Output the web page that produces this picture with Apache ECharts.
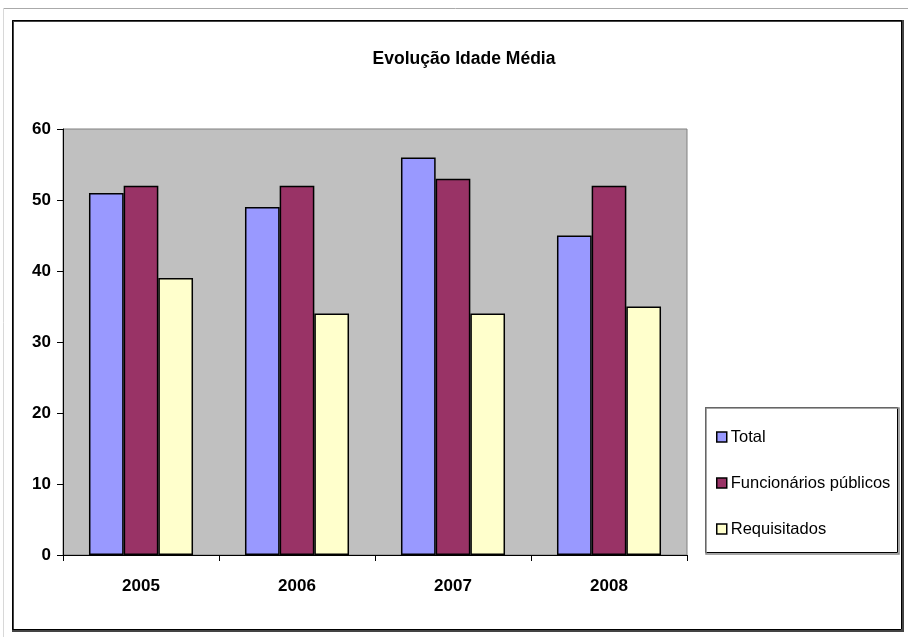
<!DOCTYPE html>
<html>
<head>
<meta charset="utf-8">
<script src="https://cdn.jsdelivr.net/npm/echarts@6/dist/echarts.min.js"></script>
<style>
html,body{margin:0;padding:0;background:#fff;}
#main{width:908px;height:637px;}
</style>
</head>
<body>
<div id="main"></div>
<script>
var titleText = 'Evolução Idade Média';
var categories = ['2005', '2006', '2007', '2008'];
var seriesNames = ['Total', 'Funcionários públicos', 'Requisitados'];
var totalValues = [51, 49, 56, 45];
var funcionariosValues = [52, 52, 53, 52];
var requisitadosValues = [39, 34, 34, 35];
var seriesColors = ['#9999FF', '#993366', '#FFFFCC'];
var yMin = 0, yMax = 60, yInterval = 10;

var chart = echarts.init(document.getElementById('main'), null, {renderer: 'canvas'});
var font = '"Liberation Sans", Arial, sans-serif';
var valueSets = [totalValues, funcionariosValues, requisitadosValues];

var option = {
  animation: false,
  backgroundColor: '#fff',
  title: {
    text: titleText,
    left: 459, top: 45, textAlign: 'center',
    textStyle: {fontFamily: font, fontSize: 17.5, fontWeight: 'bold', color: '#000'}
  },
  grid: {
    left: 63, top: 129, width: 624, height: 426,
    show: true, backgroundColor: '#C0C0C0', borderColor: '#808080', borderWidth: 1
  },
  legend: {
    orient: 'vertical',
    left: 711, top: 422,
    itemWidth: 10, itemHeight: 10, itemGap: 26,
    icon: 'rect',
    itemStyle: {borderColor: '#000', borderWidth: 1.5},
    textStyle: {fontFamily: font, fontSize: 16.5, color: '#000', lineHeight: 20, padding: [0,0,0,-1]},
    data: seriesNames
  },
  xAxis: {
    type: 'category',
    data: categories,
    axisLine: {lineStyle: {color: '#000', width: 1}},
    axisTick: {show: true, length: 6, lineStyle: {color: '#000'}},
    axisLabel: {fontFamily: font, fontSize: 17, fontWeight: 'bold', color: '#000', margin: 23},
    splitLine: {show: false}
  },
  yAxis: {
    type: 'value',
    min: yMin, max: yMax, interval: yInterval,
    axisLine: {show: true, lineStyle: {color: '#000', width: 1}},
    axisTick: {show: true, length: 6, lineStyle: {color: '#000'}},
    axisLabel: {fontFamily: font, fontSize: 17, fontWeight: 'bold', color: '#000', margin: 12},
    splitLine: {show: false}
  },
  graphic: [
    {type: 'line', shape: {x1: 3, y1: 8.5, x2: 908, y2: 8.5}, style: {stroke: '#AAAAAA', lineWidth: 1}, silent: true},
    {type: 'line', shape: {x1: 3.5, y1: 8, x2: 3.5, y2: 637}, style: {stroke: '#D8D8D8', lineWidth: 1}, silent: true},
    {type: 'rect', shape: {x: 13, y: 21, width: 890, height: 610}, style: {fill: 'none', stroke: '#444', lineWidth: 2}, silent: true, z: -1},
    {type: 'rect', shape: {x: 12.5, y: 20.5, width: 889, height: 609}, style: {fill: 'none', stroke: '#000', lineWidth: 1}, silent: true, z: -1},
    {type: 'rect', shape: {x: 706, y: 408, width: 193, height: 146}, style: {fill: 'none', stroke: '#888', lineWidth: 1.5}, silent: true},
    {type: 'rect', shape: {x: 705.5, y: 407.5, width: 192, height: 145}, style: {fill: '#fff', stroke: '#000', lineWidth: 1}, silent: true, z: -1}
  ],
  series: seriesNames.map(function (name, i) {
    return {
      name: name,
      type: 'bar',
      data: valueSets[i],
      barGap: '0%',
      barCategoryGap: '33.3%',
      itemStyle: {color: seriesColors[i], borderColor: '#000', borderWidth: 1.5}
    };
  })
};
chart.setOption(option);
</script>
</body>
</html>
